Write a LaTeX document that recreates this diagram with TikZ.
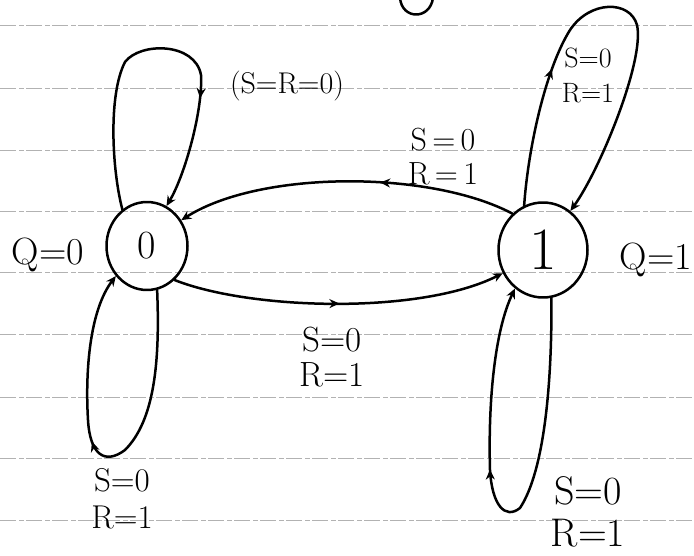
\documentclass[tikz,border=0pt]{standalone}
\usetikzlibrary{shapes.geometric,arrows.meta,decorations.markings}
\begin{document}
\begin{tikzpicture}[x=1pt,y=-1pt,
  stroke/.style={line width=2.5pt, line cap=round, line join=round},
  state/.style={ellipse, draw, stroke, inner sep=0pt},
  trans/.style={stroke, -{Stealth[length=10pt,width=9pt]}},
  midarrow/.style={postaction={decorate}, decoration={markings, mark=at position #1 with {\arrow{Stealth[length=10pt,width=9pt]}}}},
  lbl/.style={inner sep=0pt, align=center},
  ruling/.style={gray!60, line width=0.6pt, dash pattern=on 16pt off 3pt on 5pt off 2pt}]
\useasboundingbox (0,0) rectangle (694,556);
% ruled paper
\foreach \yy in {25,88,150,211,272,334,397,458,520}
  \draw[ruling] (0,\yy) -- (694,\yy);
% fragment of a letter at the top
\draw[stroke] (400,-2) .. controls (402,20) and (430,20) .. (433,-2);
% states
\node[state, minimum width=81pt, minimum height=88pt, font=\fontsize{40}{40}\selectfont] (s0) at (147,246) {0};
\node[state, minimum width=89pt, minimum height=95pt, font=\fontsize{60}{60}\selectfont] (s1) at (543,250) {1};
\node[lbl, font=\fontsize{38}{38}\selectfont] (q0) at (48,255) {Q=0};
\node[lbl, font=\fontsize{38}{38}\selectfont] (q1) at (656,260) {Q=1};
% self loop on 0 (top)
\draw[trans, midarrow=0.7] (s0.124) .. controls (112,170) and (108,95) .. (125,62)
  .. controls (140,42) and (195,42) .. (201,75) .. controls (203,110) and (185,175) .. (s0.64);
\node[lbl, font=\fontsize{30}{30}\selectfont] (lself0) at (287,86) {(S=R=0)};
% self loop on 1 (top)
\draw[trans, midarrow=0.3] (s1.113) .. controls (528,150) and (545,70) .. (570,30)
  .. controls (590,0) and (630,0) .. (637,25) .. controls (645,60) and (600,170) .. (s1.55);
\node[lbl, font=\fontsize{28}{35}\selectfont] (lself1) at (588,75) {S=0\\R=1};
% 1 -> 0
\draw[trans, midarrow=0.4] (s1.130) .. controls (430,170) and (260,170) .. (s0.37);
\node[lbl, font=\fontsize{32}{34}\selectfont] (l10) at (443,157) {S\,=\,0\\R\,=\,1};
% 0 -> 1
\draw[trans, midarrow=0.5] (s0.-51) .. controls (250,310) and (420,315) .. (s1.210);
\node[lbl, font=\fontsize{35}{35}\selectfont] (l01) at (332,357) {S=0\\R=1};
% self loop on 0 (bottom)
\draw[trans, midarrow=0.55] (s0.283) .. controls (160,360) and (155,420) .. (125,450)
  .. controls (105,465) and (90,455) .. (88,420) .. controls (85,370) and (90,310) .. (s0.224);
\node[lbl, font=\fontsize{33}{37}\selectfont] (lb0) at (122,499) {S=0\\R=1};
% self loop on 1 (bottom)
\draw[trans, midarrow=0.6] (s1.280) .. controls (552,380) and (545,470) .. (520,508)
  .. controls (505,520) and (492,505) .. (490,470) .. controls (488,400) and (495,330) .. (s1.234);
\node[lbl, font=\fontsize{40}{42}\selectfont] (lb1) at (588,512) {S=0\\R=1};
\end{tikzpicture}
\end{document}
